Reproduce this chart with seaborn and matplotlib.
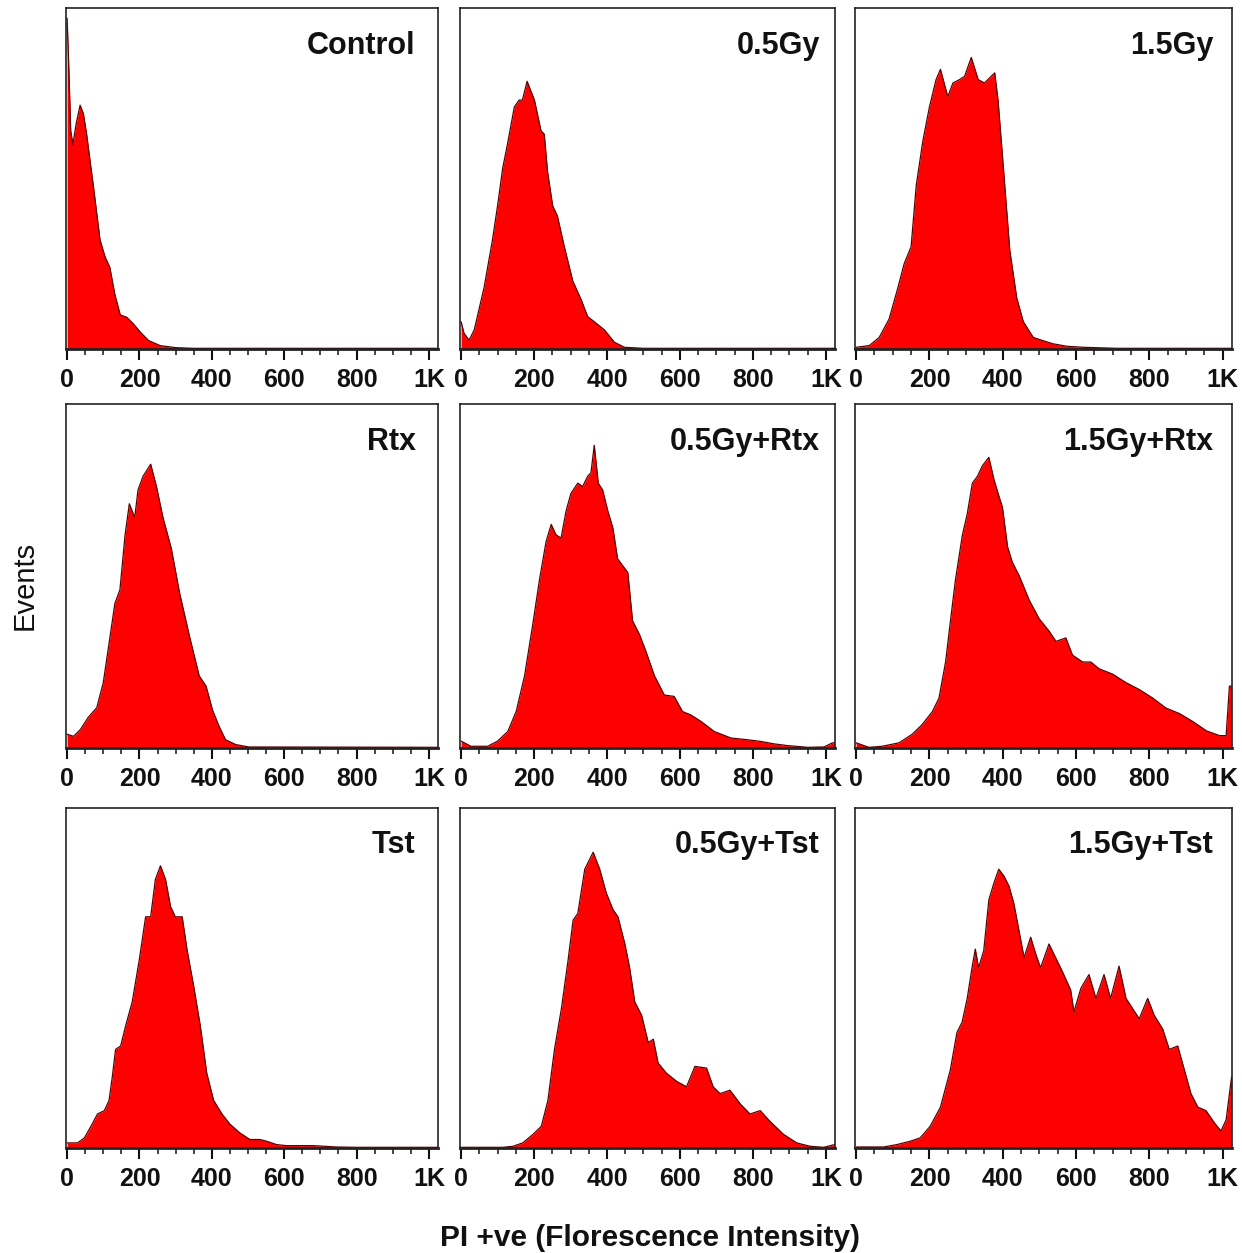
import numpy as np
import pandas as pd
import matplotlib
matplotlib.use("Agg")
import matplotlib.pyplot as plt
import seaborn as sns
from matplotlib.ticker import MultipleLocator, FixedLocator, FixedFormatter

# PI histograms (x = channel, y = fraction of panel height)
control_x = [0, 4, 10, 16, 25, 36, 45, 54, 60, 73, 91, 105, 118, 132, 147, 165, 183, 202, 225, 257, 300, 350, 1024]
control_y = [0.97, 0.85, 0.64, 0.60, 0.66, 0.715, 0.69, 0.63, 0.58, 0.475, 0.32, 0.27, 0.24, 0.16, 0.10, 0.093, 0.074, 0.05, 0.025, 0.01, 0.004, 0.002, 0.002]

gy05_x = [0, 8, 22, 36, 63, 86, 100, 114, 127, 146, 159, 168, 181, 201, 219, 228, 237, 251, 264, 283, 306, 329, 347, 365, 393, 420, 448, 500, 1024]
gy05_y = [0.08, 0.046, 0.026, 0.056, 0.18, 0.32, 0.42, 0.53, 0.60, 0.71, 0.73, 0.73, 0.785, 0.73, 0.64, 0.63, 0.52, 0.42, 0.39, 0.30, 0.20, 0.145, 0.095, 0.08, 0.056, 0.02, 0.005, 0.002, 0.002]

gy15_x = [0, 36, 63, 90, 113, 131, 150, 164, 182, 200, 218, 230, 250, 264, 282, 296, 314, 333, 350, 364, 378, 387, 401, 419, 438, 456, 483, 511, 538, 575, 620, 711, 1024]
gy15_y = [0.005, 0.01, 0.034, 0.088, 0.176, 0.25, 0.30, 0.48, 0.61, 0.71, 0.79, 0.82, 0.74, 0.78, 0.79, 0.80, 0.855, 0.79, 0.78, 0.795, 0.81, 0.73, 0.54, 0.29, 0.15, 0.08, 0.034, 0.024, 0.015, 0.008, 0.005, 0.002, 0.002]

rtx_x = [0, 18, 37, 59, 82, 100, 119, 132, 146, 160, 172, 187, 196, 210, 231, 247, 265, 288, 311, 338, 365, 384, 402, 420, 438, 466, 502, 1024]
rtx_y = [0.04, 0.034, 0.054, 0.09, 0.117, 0.19, 0.326, 0.42, 0.46, 0.617, 0.71, 0.67, 0.75, 0.79, 0.825, 0.76, 0.67, 0.58, 0.45, 0.326, 0.21, 0.18, 0.11, 0.063, 0.024, 0.01, 0.003, 0.002]

gy05rtx_x = [0, 27, 73, 100, 128, 151, 174, 196, 215, 233, 247, 260, 274, 288, 301, 320, 333, 347, 356, 365, 376, 388, 402, 416, 429, 443, 457, 470, 489, 507, 530, 557, 584, 607, 630, 658, 694, 740, 785, 822, 858, 895, 950, 995, 1018, 1024]
gy05rtx_y = [0.02, 0.005, 0.005, 0.02, 0.048, 0.106, 0.21, 0.356, 0.49, 0.60, 0.65, 0.62, 0.61, 0.69, 0.74, 0.77, 0.76, 0.79, 0.80, 0.88, 0.77, 0.75, 0.69, 0.64, 0.55, 0.53, 0.51, 0.37, 0.33, 0.28, 0.21, 0.154, 0.15, 0.106, 0.096, 0.077, 0.048, 0.029, 0.024, 0.019, 0.012, 0.007, 0.002, 0.003, 0.015, 0.015]

gy15rtx_x = [0, 35, 71, 117, 153, 180, 208, 226, 244, 258, 271, 290, 303, 317, 331, 344, 362, 376, 390, 399, 413, 426, 445, 472, 499, 526, 545, 572, 590, 618, 640, 663, 699, 736, 772, 809, 845, 882, 918, 955, 991, 1009, 1018, 1024]
gy15rtx_y = [0.015, 0.002, 0.005, 0.015, 0.04, 0.068, 0.106, 0.145, 0.25, 0.376, 0.49, 0.62, 0.68, 0.77, 0.79, 0.82, 0.845, 0.78, 0.73, 0.70, 0.585, 0.54, 0.50, 0.43, 0.376, 0.34, 0.31, 0.32, 0.27, 0.25, 0.25, 0.23, 0.215, 0.19, 0.17, 0.145, 0.116, 0.10, 0.077, 0.05, 0.036, 0.036, 0.18, 0.18]

tst_x = [0, 29, 48, 66, 84, 103, 116, 125, 134, 148, 162, 180, 199, 217, 231, 244, 258, 272, 286, 299, 318, 332, 350, 368, 386, 405, 428, 450, 478, 505, 533, 551, 579, 606, 680, 744, 800, 1024]
tst_y = [0.015, 0.015, 0.03, 0.064, 0.10, 0.11, 0.14, 0.21, 0.29, 0.30, 0.36, 0.43, 0.55, 0.68, 0.68, 0.79, 0.83, 0.79, 0.71, 0.68, 0.68, 0.58, 0.475, 0.36, 0.22, 0.14, 0.10, 0.07, 0.044, 0.025, 0.025, 0.02, 0.01, 0.007, 0.007, 0.003, 0.002, 0.002]

gy05tst_x = [0, 114, 142, 169, 197, 220, 238, 256, 275, 293, 307, 320, 339, 362, 380, 398, 417, 430, 449, 462, 476, 495, 513, 527, 540, 563, 591, 618, 641, 673, 691, 710, 737, 765, 792, 820, 847, 884, 920, 957, 994, 1024]
gy05tst_y = [0.002, 0.002, 0.005, 0.015, 0.04, 0.064, 0.14, 0.29, 0.41, 0.55, 0.67, 0.69, 0.82, 0.87, 0.82, 0.75, 0.70, 0.68, 0.60, 0.53, 0.43, 0.39, 0.31, 0.32, 0.25, 0.22, 0.196, 0.18, 0.24, 0.235, 0.18, 0.16, 0.17, 0.13, 0.10, 0.11, 0.078, 0.04, 0.015, 0.005, 0.002, 0.01]

gy15tst_x = [0, 75, 111, 148, 175, 202, 230, 257, 275, 289, 303, 316, 325, 334, 348, 362, 376, 389, 403, 417, 430, 444, 458, 476, 490, 503, 526, 544, 562, 585, 594, 613, 635, 654, 676, 694, 717, 736, 754, 772, 795, 813, 836, 854, 877, 895, 913, 932, 954, 977, 995, 1009, 1024]
gy15tst_y = [0.003, 0.003, 0.01, 0.02, 0.03, 0.064, 0.12, 0.23, 0.34, 0.37, 0.44, 0.53, 0.585, 0.53, 0.58, 0.73, 0.78, 0.82, 0.80, 0.77, 0.72, 0.64, 0.56, 0.62, 0.57, 0.53, 0.60, 0.56, 0.52, 0.465, 0.40, 0.47, 0.51, 0.44, 0.51, 0.44, 0.535, 0.44, 0.41, 0.38, 0.44, 0.39, 0.35, 0.29, 0.30, 0.23, 0.16, 0.12, 0.11, 0.074, 0.05, 0.083, 0.21]

panel_names = ["Control", "0.5Gy", "1.5Gy",
               "Rtx", "0.5Gy+Rtx", "1.5Gy+Rtx",
               "Tst", "0.5Gy+Tst", "1.5Gy+Tst"]
panel_data = [(control_x, control_y), (gy05_x, gy05_y), (gy15_x, gy15_y),
              (rtx_x, rtx_y), (gy05rtx_x, gy05rtx_y), (gy15rtx_x, gy15rtx_y),
              (tst_x, tst_y), (gy05tst_x, gy05tst_y), (gy15tst_x, gy15tst_y)]
tick_vals = [0, 200, 400, 600, 800, 1000]
tick_labels = ["0", "200", "400", "600", "800", "1K"]

sns.set_style("ticks")
plt.rcParams['font.family'] = ['Liberation Sans', 'DejaVu Sans']

W, H = 1242, 1253
fig = plt.figure(figsize=(W / 100, H / 100), dpi=100)

# panel edges in pixels
cols = [(66, 438), (460, 835), (855, 1232)]
rows = [(8, 349), (404, 748), (808, 1148)]
# title anchor (x fraction) per column
title_x = [0.94, 0.96, 0.95]

for i, (name, (xs, ys)) in enumerate(zip(panel_names, panel_data)):
    r, c = divmod(i, 3)
    x0, x1 = cols[c]
    y0, y1 = rows[r]
    ax = fig.add_axes([x0 / W, 1 - y1 / H, (x1 - x0) / W, (y1 - y0) / H])
    df = pd.DataFrame({"x": xs, "y": ys})
    ax.fill_between(df["x"], 0, df["y"], color="#ff0000", linewidth=0)
    sns.lineplot(data=df, x="x", y="y", ax=ax, color="#5a0000", linewidth=0.9, sort=False)
    ax.set_xlim(-3, 1025)
    ax.set_ylim(0, 1.0)
    ax.set_yticks([])
    ax.set_xlabel("")
    ax.set_ylabel("")
    ax.xaxis.set_major_locator(FixedLocator(tick_vals))
    ax.xaxis.set_major_formatter(FixedFormatter(tick_labels))
    ax.xaxis.set_minor_locator(MultipleLocator(50))
    ax.tick_params(axis="x", which="major", length=8, width=1.5, direction="out",
                   labelsize=18, pad=6, colors="#111111")
    ax.tick_params(axis="x", which="minor", length=4, width=1.2, direction="out")
    for lab in ax.get_xticklabels():
        lab.set_fontweight("bold")
    for side, sp in ax.spines.items():
        sp.set_visible(True)
        sp.set_color("#222222")
        sp.set_linewidth(1.2)
    ax.spines["bottom"].set_linewidth(2.0)
    ax.text(title_x[c], 0.89, name, transform=ax.transAxes, ha="right", va="center",
            fontsize=22, fontweight="bold", color="#111111")

fig.text(25 / W, 1 - 585 / H, "Events", rotation=90, ha="center", va="center",
         fontsize=21, color="#111111")
fig.text(650 / W, 1 - 1238 / H, "PI +ve (Florescence Intensity)", ha="center", va="center",
         fontsize=21.5, fontweight="bold", color="#111111")

fig.savefig("out.png", dpi=100, facecolor="white")
